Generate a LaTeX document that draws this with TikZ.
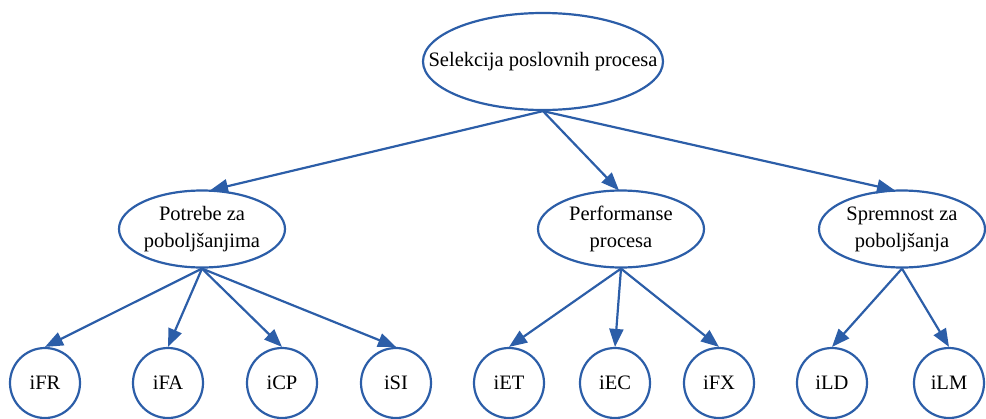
\documentclass[tikz,border=0pt]{standalone}
\usepackage{fontspec}
\setmainfont{Liberation Serif}
\usetikzlibrary{shapes.geometric,arrows.meta,calc}
\definecolor{edgeblue}{RGB}{44,94,168}
\tikzset{
  base/.style={draw=edgeblue, line width=2.2pt, inner sep=0pt},
  txt/.style={inner sep=0pt, align=center, font=\fontsize{20.5}{27}\selectfont},
  topnode/.style={base, ellipse, minimum width=240pt, minimum height=97pt},
  midnode/.style={base, ellipse, minimum width=166pt, minimum height=77pt},
  leaf/.style={base, circle, minimum size=70pt, font=\fontsize{20.5}{27}\selectfont},
  conn/.style={draw=edgeblue, line width=2.2pt, -{Triangle[length=18pt,width=14pt]}},
}
\begin{document}
\begin{tikzpicture}[x=1pt,y=-1pt]
\useasboundingbox (0,0) rectangle (986,418);
\node[topnode] (sel) at (543,61.5) {};
\node[txt] (selt) at (sel) {Selekcija poslovnih procesa};
\node[midnode] (pot) at (202,229) {};
\node[txt] (pott) at (pot) {Potrebe za\\poboljšanjima};
\node[midnode] (perf) at (621,229) {};
\node[txt] (perft) at (perf) {Performanse\\procesa};
\node[midnode] (spr) at (902,229) {};
\node[txt] (sprt) at (spr) {Spremnost za\\poboljšanja};
\node[leaf] (ifr) at (45,383) {iFR};
\node[leaf] (ifa) at (168,383) {iFA};
\node[leaf] (icp) at (282,383) {iCP};
\node[leaf] (isi) at (396,383) {iSI};
\node[leaf] (iet) at (509,383) {iET};
\node[leaf] (iec) at (615,383) {iEC};
\node[leaf] (ifx) at (719,383) {iFX};
\node[leaf] (ild) at (832,383) {iLD};
\node[leaf] (ilm) at (949,383) {iLM};
\draw[conn] (sel.south) -- ($(pot.north)+(8,1)$);
\draw[conn] (sel.south) -- ($(perf.north)+(-2,1)$);
\draw[conn] (sel.south) -- ($(spr.north)+(-7,1)$);
\foreach \c in {ifr,ifa,icp,isi} \draw[conn] (pot.south) -- (\c.north);
\foreach \c in {iet,iec,ifx} \draw[conn] (perf.south) -- (\c.north);
\foreach \c in {ild,ilm} \draw[conn] (spr.south) -- (\c.north);
\end{tikzpicture}
\end{document}
